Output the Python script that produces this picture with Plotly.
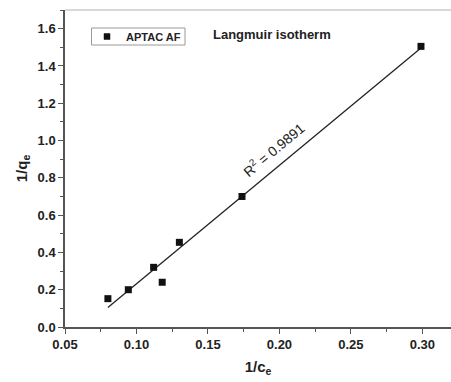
import numpy as np
import plotly.graph_objects as go

inv_ce = [0.080, 0.0943, 0.112, 0.118, 0.130, 0.1738, 0.299]
inv_qe = [0.152, 0.200, 0.320, 0.240, 0.454, 0.700, 1.505]
series_name = "APTAC AF"
title_text = "Langmuir isotherm"
r2_text = "R<sup>2</sup> = 0.9891"
x_ticks = [0.05, 0.10, 0.15, 0.20, 0.25, 0.30]
y_ticks = [0.0, 0.2, 0.4, 0.6, 0.8, 1.0, 1.2, 1.4, 1.6]

slope, intercept = np.polyfit(inv_ce, inv_qe, 1)
fit_x = [min(inv_ce), max(inv_ce)]
fit_y = [slope * v + intercept for v in fit_x]

font_fam = "Liberation Sans, Arial, sans-serif"
W, H = 451, 382
L, R, T, B = 65, 0, 10, 55
pw, ph = W - L - R, H - T - B


def px(xp):
    return (xp - L) / pw


def py(yp):
    return 1 - (yp - T) / ph


fig = go.Figure()
fig.add_trace(go.Scatter(x=fit_x, y=fit_y, mode="lines", line=dict(color="#222", width=1.3),
                         showlegend=False, hoverinfo="skip"))
fig.add_trace(go.Scatter(x=inv_ce, y=inv_qe, mode="markers", name=series_name, showlegend=False,
                         marker=dict(symbol="square", size=7, color="#111")))

axis_common = dict(showgrid=False, zeroline=False, showline=True, linecolor="#555", linewidth=1.5,
                   ticks="outside", ticklen=5, tickwidth=1.2, tickcolor="#555",
                   tickfont=dict(family=font_fam, size=13, color="#222"),
                   minor=dict(ticks="outside", ticklen=3, tickcolor="#555", tickwidth=1))

fig.update_xaxes(range=[0.05, 0.32], tickvals=x_ticks,
                 ticktext=["<b>%.2f</b>" % v for v in x_ticks],
                 minor_dtick=0.025, minor_tick0=0.025,
                 title=dict(text="<b>1/c<sub>e</sub></b>", font=dict(family=font_fam, size=15, color="#222"), standoff=10),
                 **axis_common)
fig.update_yaxes(range=[0, 1.7], tickvals=y_ticks,
                 ticktext=["<b>%.1f</b>" % v for v in y_ticks],
                 minor_dtick=0.1, minor_tick0=0.1,
                 title=dict(text="<b>1/q<sub>e</sub></b>", font=dict(family=font_fam, size=15, color="#222"), standoff=6),
                 **axis_common)

# top frame line
fig.add_shape(type="line", xref="paper", yref="paper", x0=0, x1=1, y0=1, y1=1,
              line=dict(color="#ccc", width=1.5))

# legend box (drawn manually to match compact style)
fig.add_shape(type="rect", xref="paper", yref="paper", x0=px(91.5), x1=px(185), y0=py(28), y1=py(45),
              line=dict(color="#999", width=1), fillcolor="white")
fig.add_shape(type="rect", xref="paper", yref="paper", x0=px(104), x1=px(110), y0=py(33.5), y1=py(39.5),
              line=dict(color="#111", width=0.5), fillcolor="#111")
fig.add_annotation(x=px(124), y=py(36.5), xref="paper", yref="paper",
                   text="<b>" + series_name + "</b>", xanchor="left", yanchor="middle", showarrow=False,
                   font=dict(family=font_fam, size=11, color="#222"))

fig.add_annotation(x=0.196, y=0.955, xref="x", yref="y", text=r2_text,
                   textangle=-40, showarrow=False, font=dict(family=font_fam, size=14, color="#222"))
fig.add_annotation(x=px(211), y=py(35), xref="paper", yref="paper",
                   text="<b>" + title_text + "</b>", xanchor="left", yanchor="middle", showarrow=False,
                   font=dict(family=font_fam, size=13, color="#222"))

fig.update_layout(
    width=W, height=H,
    margin=dict(l=L, r=R, t=T, b=B),
    paper_bgcolor="white", plot_bgcolor="white",
    showlegend=False,
)

fig.write_html("out.html")
